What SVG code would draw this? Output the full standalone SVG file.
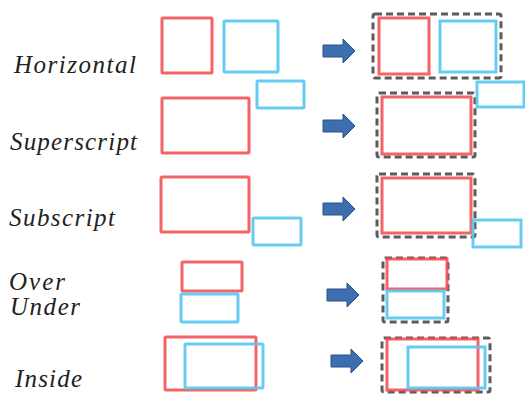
<svg xmlns="http://www.w3.org/2000/svg" width="525" height="394" viewBox="0 0 525 394">
<defs>
<style>
.lbl{font-family:"Liberation Serif","Times New Roman",serif;font-style:italic;font-weight:normal;font-size:25px;fill:#222222}
.r{fill:none;stroke:#f24f52;stroke-width:3;stroke-opacity:0.88}
.b{fill:none;stroke:#55c8ef;stroke-width:3;stroke-opacity:0.9}
.d{fill:none;stroke:#4a4a4a;stroke-width:3;stroke-dasharray:7,4;stroke-opacity:0.9}
.ar{fill:#3d6fb0;stroke:#2b5288;stroke-width:1}
</style>
<path id="arrow" d="M0,6 H20 V0 L32,12 L20,24 V18 H0 Z"/>
</defs>
<rect width="525" height="394" fill="#ffffff"/>

<g id="labels">
<text class="lbl" x="14" y="73" textLength="122" lengthAdjust="spacing">Horizontal</text>
<text class="lbl" x="10" y="150" textLength="127" lengthAdjust="spacing">Superscript</text>
<text class="lbl" x="9" y="226" textLength="106" lengthAdjust="spacing">Subscript</text>
<text class="lbl" x="9" y="290" textLength="56" lengthAdjust="spacing">Over</text>
<text class="lbl" x="10" y="315" textLength="70" lengthAdjust="spacing">Under</text>
<text class="lbl" x="15" y="387" textLength="67" lengthAdjust="spacing">Inside</text>
</g>

<g id="horizontal">
<rect class="r" x="162" y="18" width="50" height="55" rx="1"/>
<rect class="b" x="224" y="21" width="54" height="51" rx="1"/>
<rect class="d" x="373" y="14" width="128" height="64" rx="2"/>
<rect class="r" x="379" y="18" width="50" height="56"/>
<rect class="b" x="440" y="21" width="56" height="51"/>
</g>

<g id="superscript">
<rect class="r" x="162" y="98" width="87" height="55" rx="1"/>
<rect class="b" x="257" y="81" width="47" height="27" rx="1"/>
<rect class="d" x="377" y="93" width="98" height="64" rx="2"/>
<rect class="r" x="382" y="97" width="89" height="57"/>
<rect class="b" x="477" y="82" width="47" height="25"/>
</g>

<g id="subscript">
<rect class="r" x="161" y="177" width="88" height="55" rx="1"/>
<rect class="b" x="253" y="218" width="48" height="27" rx="1"/>
<rect class="d" x="377" y="174" width="98" height="63" rx="2"/>
<rect class="r" x="382" y="178" width="89" height="55"/>
<rect class="b" x="473" y="220" width="48" height="27"/>
</g>

<g id="overunder">
<rect class="r" x="182" y="262" width="60" height="29" rx="1"/>
<rect class="b" x="181" y="294" width="57" height="28" rx="1"/>
<rect class="d" x="383" y="258" width="65" height="64" rx="2"/>
<rect class="r" x="387" y="259" width="60" height="30"/>
<rect class="b" x="387" y="291" width="57" height="27"/>
</g>

<g id="inside">
<rect class="r" x="165" y="337" width="91" height="53" rx="1"/>
<rect class="b" x="185" y="344" width="78" height="44" rx="1"/>
<rect class="d" x="382" y="338" width="108" height="54" rx="2"/>
<rect class="r" x="387" y="339" width="91" height="51"/>
<rect class="b" x="408" y="347" width="77" height="41"/>
</g>

<g id="connectors">
<use href="#arrow" class="ar" x="323" y="39"/>
<use href="#arrow" class="ar" x="323" y="114"/>
<use href="#arrow" class="ar" x="323" y="197"/>
<use href="#arrow" class="ar" x="327" y="283"/>
<use href="#arrow" class="ar" x="331" y="349"/>
</g>
</svg>
